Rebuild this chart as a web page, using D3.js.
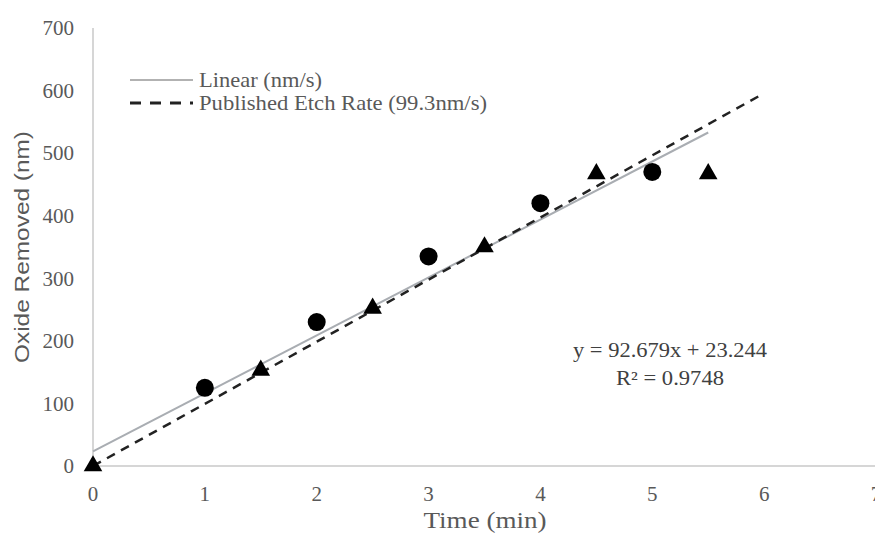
<!DOCTYPE html>
<html><head><meta charset="utf-8">
<script src="https://cdn.jsdelivr.net/npm/d3@7"></script>
<style>body{margin:0;background:#fff}svg{display:block}text{font-family:"Liberation Serif","Times New Roman",serif}</style>
</head><body><svg id="c" width="875" height="534"></svg>
<script>
const circleX = [1, 2, 3, 4, 5];
const circleY = [125, 230, 335, 420, 470];
const triX = [0, 1.5, 2.5, 3.5, 4.5, 5.5];
const triY = [0, 153, 252, 350, 467, 467];
const linearFit = {slope: 92.679, intercept: 23.244, xStart: 0, xEnd: 5.5};
const publishedRate = {slope: 99.3, xStart: 0, xEnd: 6};
const xTicks = [0, 1, 2, 3, 4, 5, 6, 7];
const yTicks = [0, 100, 200, 300, 400, 500, 600, 700];
const legendLabels = ["Linear (nm/s)", "Published Etch Rate (99.3nm/s)"];
const eqText = ["y = 92.679x + 23.244", "R² = 0.9748"];

const svg = d3.select("#c");
const x = d3.scaleLinear().domain([0, 7]).range([93, 876]);
const y = d3.scaleLinear().domain([0, 700]).range([466, 28]);
const grey = "#595959";

// axes
svg.append("line").attr("x1", x(0)).attr("x2", 875).attr("y1", y(0)).attr("y2", y(0)).attr("stroke", "#c8c8c8").attr("stroke-width", 1.5);
svg.append("line").attr("x1", x(0)).attr("x2", x(0)).attr("y1", y(0)).attr("y2", y(700)).attr("stroke", "#c8c8c8").attr("stroke-width", 1.5);

svg.selectAll(".yt").data(yTicks).enter().append("text")
  .attr("x", 74).attr("y", d => y(d)).attr("dy", "0.35em").attr("text-anchor", "end")
  .attr("font-size", 21).attr("fill", grey).text(d => d);
svg.selectAll(".xt").data(xTicks).enter().append("text")
  .attr("x", d => x(d)).attr("y", 501).attr("text-anchor", "middle")
  .attr("font-size", 21).attr("fill", grey).text(d => d);

svg.append("text").attr("transform", "translate(29,247) rotate(-90)").attr("text-anchor", "middle")
  .style("font-family", "'Liberation Sans', Arial, sans-serif")
  .attr("font-size", 20).attr("fill", grey)
  .attr("textLength", 232).attr("lengthAdjust", "spacingAndGlyphs").text("Oxide Removed (nm)");
svg.append("text").attr("x", 485).attr("y", 528).attr("text-anchor", "middle")
  .attr("font-size", 24).attr("fill", grey)
  .attr("textLength", 123).attr("lengthAdjust", "spacingAndGlyphs").text("Time (min)");

// lines
const line = d3.line().x(d => x(d[0])).y(d => y(d[1]));
svg.append("path").datum([[linearFit.xStart, linearFit.intercept + linearFit.slope * linearFit.xStart], [linearFit.xEnd, linearFit.intercept + linearFit.slope * linearFit.xEnd]])
  .attr("d", line).attr("fill", "none").attr("stroke", "#a9adb2").attr("stroke-width", 2);
svg.append("path").datum([[publishedRate.xStart, publishedRate.slope * publishedRate.xStart], [publishedRate.xEnd, publishedRate.slope * publishedRate.xEnd]])
  .attr("d", line).attr("fill", "none").attr("stroke", "#222").attr("stroke-width", 2.5).attr("stroke-dasharray", "9,7");

// markers
svg.selectAll(".cir").data(circleX.map((d, i) => [d, circleY[i]])).enter().append("circle")
  .attr("cx", d => x(d[0])).attr("cy", d => y(d[1])).attr("r", 9).attr("fill", "#000");
const tri = d3.symbol().type(d3.symbolTriangle).size(150);
svg.selectAll(".tri").data(triX.map((d, i) => [d, triY[i]])).enter().append("path")
  .attr("d", tri).attr("transform", d => `translate(${x(d[0])},${y(d[1])})`).attr("fill", "#000");

// legend
svg.append("line").attr("x1", 130).attr("x2", 193).attr("y1", 80).attr("y2", 80).attr("stroke", "#999").attr("stroke-width", 1.5);
svg.append("line").attr("x1", 130).attr("x2", 193).attr("y1", 103).attr("y2", 103).attr("stroke", "#222").attr("stroke-width", 3).attr("stroke-dasharray", "11,9");
const legW = [123, 288];
svg.selectAll(".lg").data(legendLabels).enter().append("text")
  .attr("x", 199).attr("y", (d, i) => 80 + i * 23).attr("dy", "0.33em")
  .attr("font-size", 21).attr("fill", grey)
  .attr("textLength", (d, i) => legW[i]).attr("lengthAdjust", "spacingAndGlyphs").text(d => d);

// equation
const eqW = [194, 108];
svg.selectAll(".eq").data(eqText).enter().append("text")
  .attr("x", 670).attr("y", (d, i) => 350 + i * 28).attr("dy", "0.35em").attr("text-anchor", "middle")
  .attr("font-size", 20).attr("fill", "#404040")
  .attr("textLength", (d, i) => eqW[i]).attr("lengthAdjust", "spacingAndGlyphs").text(d => d);
</script></body></html>
